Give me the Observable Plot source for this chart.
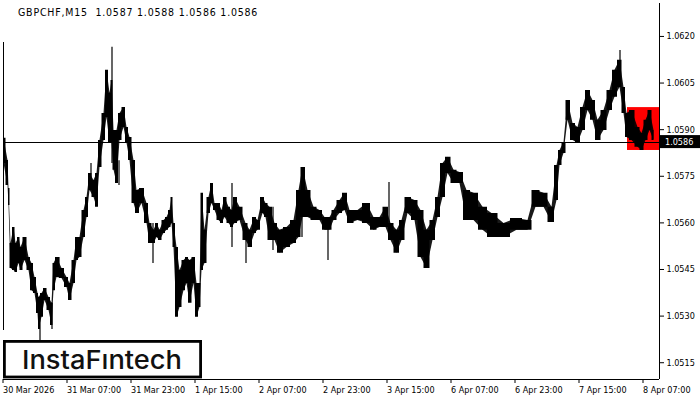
<!DOCTYPE html>
<html><head><meta charset="utf-8">
<script src="https://cdn.jsdelivr.net/npm/d3@7"></script>
<script src="https://cdn.jsdelivr.net/npm/@observablehq/plot@0.6"></script>
<style>
body{margin:0;background:#fff;}
#wrap{position:relative;width:700px;height:400px;overflow:hidden;font-family:"DejaVu Sans Condensed","Liberation Sans",sans-serif;}
#title{position:absolute;left:18px;top:6px;font-size:10.5px;letter-spacing:0.8px;color:#000;white-space:pre;line-height:12px;}
#logo{position:absolute;left:3px;top:340px;}
</style></head><body>
<div id="wrap"><div id="title"></div></div>
<script>
// ---- data (GBPCHF M15, one bar = one 15-minute period) ----
const symbol = "GBPCHF,M15";
const ohlc = [1.0587, 1.0588, 1.0586, 1.0586];
const lastPrice = 1.0586;

// sampled bar-range envelope: bar index, high, low
const barIdx = [0,4,5,7,10,12,15,17,21,25,28,31,34,35,38,41,45,48,50,53,58,63,66,70,73,76,80,83,86,90,93,96,100,103,106,108,110,113,116,120,123,126,130,133,138,143,146,150,153,156,160,163,166,168,170,173,176,180,183,186,190,193,196,198,201,205,208,211,215,218,221,225,228,231,236,242,246,251,254,259,262,266,271,276,283,290,295,299,304,310,316,321,326,330,336,341,346,354,363,370,376,382,387,393,398,404,411,417,423,429,434,439,444,450,456,463,470,479,488,500,513,524,532,540,548,553,556,560,564,569,574,579,584,589,594,600,606,611,616,620,623,628,634,638,642,646,650];
const barHigh = [1.05872,1.05801,1.05711,1.05534,1.05585,1.05534,1.05553,1.05521,1.05553,1.05489,1.05469,1.05424,1.05373,1.05360,1.05373,1.05389,1.05360,1.05341,1.05469,1.05489,1.05453,1.05424,1.05405,1.05479,1.05553,1.05553,1.05640,1.05682,1.05759,1.05736,1.05759,1.05865,1.05952,1.06091,1.06017,1.06058,1.05897,1.05897,1.05952,1.05971,1.05907,1.05875,1.05801,1.05704,1.05711,1.05662,1.05598,1.05576,1.05598,1.05576,1.05608,1.05617,1.05640,1.05682,1.05598,1.05521,1.05447,1.05479,1.05489,1.05479,1.05489,1.05405,1.05405,1.05695,1.05576,1.05682,1.05727,1.05662,1.05662,1.05640,1.05682,1.05650,1.05640,1.05682,1.05650,1.05598,1.05576,1.05617,1.05608,1.05682,1.05662,1.05650,1.05598,1.05576,1.05585,1.05608,1.05704,1.05778,1.05704,1.05650,1.05640,1.05617,1.05617,1.05640,1.05672,1.05695,1.05640,1.05640,1.05662,1.05617,1.05617,1.05650,1.05598,1.05576,1.05608,1.05682,1.05672,1.05640,1.05576,1.05608,1.05682,1.05791,1.05811,1.05769,1.05762,1.05704,1.05695,1.05650,1.05630,1.05598,1.05614,1.05608,1.05704,1.05695,1.05650,1.05785,1.05833,1.05859,1.05994,1.05920,1.05907,1.05971,1.06026,1.05994,1.05930,1.05962,1.06026,1.06091,1.06123,1.06036,1.05952,1.05962,1.05907,1.05888,1.05930,1.05962,1.05897];
const barLow = [1.05791,1.05720,1.05656,1.05453,1.05447,1.05440,1.05469,1.05447,1.05479,1.05447,1.05382,1.05373,1.05308,1.05257,1.05296,1.05350,1.05318,1.05270,1.05382,1.05424,1.05421,1.05392,1.05350,1.05405,1.05479,1.05489,1.05553,1.05617,1.05704,1.05682,1.05650,1.05778,1.05865,1.05939,1.05856,1.05856,1.05769,1.05727,1.05865,1.05907,1.05856,1.05801,1.05662,1.05630,1.05662,1.05598,1.05534,1.05534,1.05553,1.05543,1.05566,1.05576,1.05585,1.05598,1.05521,1.05296,1.05328,1.05382,1.05405,1.05341,1.05405,1.05296,1.05328,1.05447,1.05469,1.05630,1.05662,1.05640,1.05608,1.05598,1.05617,1.05598,1.05585,1.05598,1.05608,1.05543,1.05521,1.05566,1.05576,1.05630,1.05617,1.05543,1.05543,1.05502,1.05521,1.05534,1.05553,1.05617,1.05617,1.05608,1.05608,1.05576,1.05576,1.05608,1.05630,1.05640,1.05598,1.05608,1.05598,1.05576,1.05585,1.05585,1.05543,1.05502,1.05543,1.05630,1.05608,1.05489,1.05453,1.05543,1.05617,1.05682,1.05759,1.05727,1.05727,1.05608,1.05608,1.05576,1.05553,1.05553,1.05576,1.05576,1.05650,1.05650,1.05601,1.05672,1.05785,1.05823,1.05930,1.05865,1.05856,1.05897,1.05962,1.05930,1.05865,1.05897,1.05962,1.06004,1.06036,1.05952,1.05875,1.05865,1.05843,1.05833,1.05865,1.05897,1.05865];

// single-bar wicks that stick out of the envelope
const spikeIdx  = [36,48,55,87,108,115,149,228,242,269,298,324,385,422,616];
const spikeHigh = [1.05350,1.05341,1.05489,1.05791,1.06165,1.05800,1.05598,1.05727,1.05598,1.05650,1.05778,1.05617,1.05730,1.05576,1.06155];
const spikeLow  = [1.05221,1.05257,1.05440,1.05720,1.05791,1.05720,1.05469,1.05521,1.05469,1.05511,1.05553,1.05479,1.05585,1.05453,1.06036];

// vertical line object at the left edge
const vlineIdx = [-1], vlineHigh = [1.06181], vlineLow = [1.05254];

// red rectangle object (pattern zone)
const zoneStart = [623.5], zoneEnd = [655.5], zoneHigh = [1.05971], zoneLow = [1.05833];

// axes
const xDomain = [-0.5, 655.5];
const yDomain = [1.05096, 1.06306];
const yTicks = [1.0515,1.0530,1.0545,1.0560,1.0575,1.0590,1.0605,1.0620];
const xTickIdx = [0,64,128,192,256,320,384,448,512,576,640];
const xLabels = ["30 Mar 2026","31 Mar 07:00","31 Mar 23:00","1 Apr 15:00","2 Apr 07:00","2 Apr 23:00","3 Apr 15:00","6 Apr 07:00","6 Apr 23:00","7 Apr 15:00","8 Apr 07:00"];

// ---- build tables ----
const bars = barIdx.map((i,k)=>({i, high: barHigh[k], low: barLow[k]}));
const spikes = spikeIdx.map((i,k)=>({i, high: spikeHigh[k], low: spikeLow[k]}));
const vlines = vlineIdx.map((i,k)=>({i, high: vlineHigh[k], low: vlineLow[k]}));
const zones = zoneStart.map((s,k)=>({x1: s, x2: zoneEnd[k], y1: zoneLow[k], y2: zoneHigh[k]}));

document.getElementById("title").textContent = symbol + "  " + ohlc.map(v=>v.toFixed(4)).join(" ");

const font = "'DejaVu Sans Condensed','Liberation Sans',sans-serif";
const chart = Plot.plot({
  width: 700, height: 400,
  marginLeft: 3, marginRight: 41, marginTop: 3, marginBottom: 21,
  style: {fontFamily: font, fontSize: "9px", color: "#000", background: "transparent"},
  x: {domain: xDomain, axis: null},
  y: {domain: yDomain, axis: null},
  marks: [
    Plot.rect(zones, {x1: "x1", x2: "x2", y1: "y1", y2: "y2", fill: "#ff0000"}),
    Plot.ruleY([lastPrice], {stroke: "#000", strokeWidth: 1, shapeRendering: "crispEdges"}),
    Plot.areaY(bars, {x: "i", y1: "low", y2: "high", fill: "#000", curve: "step"}),
    Plot.areaY(bars, {x: "i", y1: "low", y2: "high", fill: "#000", fillOpacity: 0.9, curve: "linear"}),
    Plot.ruleX(spikes, {x: "i", y1: "low", y2: "high", stroke: "#000", strokeWidth: 1.2}),
    Plot.ruleX(vlines, {x: "i", y1: "low", y2: "high", stroke: "#000", strokeWidth: 1, shapeRendering: "crispEdges"}),
    Plot.ruleX([xDomain[1]], {stroke: "#000", shapeRendering: "crispEdges"}),
    Plot.ruleY([yDomain[0]], {stroke: "#000", shapeRendering: "crispEdges"}),
    Plot.axisY({anchor: "right", ticks: yTicks, tickSize: 4, tickPadding: 3, tickFormat: d => d.toFixed(4), label: null, fill: "#000"}),
    Plot.axisX({ticks: xTickIdx, tickSize: 4, tickPadding: 3, tickFormat: (d) => xLabels[xTickIdx.indexOf(d)], textAnchor: "start", dx: -1, label: null, fill: "#000"})
  ]
});
chart.style.position = "absolute";
chart.style.left = "0px";
chart.style.top = "0px";
document.getElementById("wrap").appendChild(chart);

// current-price label on the price axis
const svg = d3.select(chart);
const py = chart.scale("y").apply(lastPrice);
const px = chart.scale("x").apply(xDomain[1]);
const tag = svg.append("g").attr("text-anchor", "start");
tag.append("rect").attr("x", px + 1).attr("y", py - 6.5).attr("width", 41).attr("height", 13).attr("fill", "#000");
tag.append("text").attr("x", px + 6).attr("y", py + 3.5).attr("fill", "#fff").attr("text-anchor", "start")
  .attr("font-family", font).attr("font-size", 9).text(lastPrice.toFixed(4));

// logo box
const logo = d3.select("#wrap").append("svg").attr("id", "logo").attr("width", 200).attr("height", 39);
logo.append("rect").attr("x", 1.4).attr("y", 1.4).attr("width", 196.2).attr("height", 35.6)
  .attr("fill", "#fff").attr("stroke", "#000").attr("stroke-width", 2.8);
logo.append("text").attr("x", 99).attr("y", 28.5).attr("text-anchor", "middle")
  .attr("font-family", "Inter, 'Noto Sans', sans-serif").attr("font-size", 26).attr("font-weight", 500)
  .attr("fill", "#111").attr("textLength", 160).attr("lengthAdjust", "spacingAndGlyphs").text("InstaFıntech");
</script>
</body></html>
